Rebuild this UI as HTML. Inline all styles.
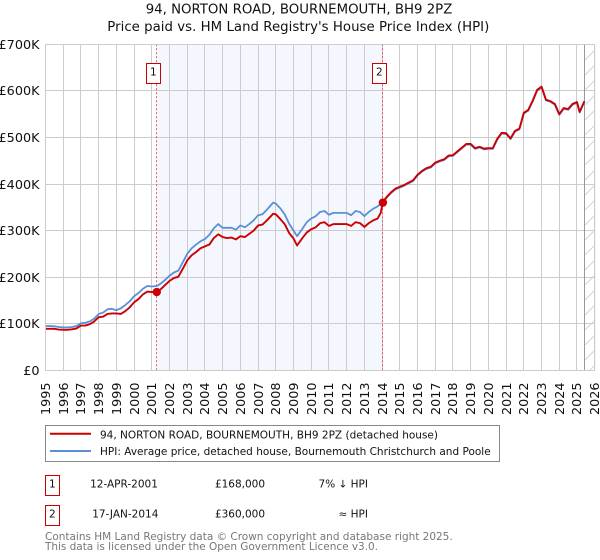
<!DOCTYPE html>
<html>
<head>
<meta charset="utf-8">
<title>94, NORTON ROAD, BOURNEMOUTH, BH9 2PZ</title>
<style>
html,body{margin:0;padding:0;background:#fff;}
svg{display:block;font-family:"DejaVu Sans","Liberation Sans",sans-serif;}
</style>
</head>
<body>
<svg id="chart" xmlns="http://www.w3.org/2000/svg" width="600" height="560" viewBox="0 0 600 560">
  <defs>
    <pattern id="hatch" patternUnits="userSpaceOnUse" width="15" height="15">
      <line x1="0" y1="15" x2="15" y2="0" stroke="#d4d4d4" stroke-width="1"/>
    </pattern>
  </defs>
  <rect x="0" y="0" width="600" height="560" fill="#ffffff"/>
  <text x="145.7" y="13.3" font-size="13.3" textLength="306.6" fill="#111">94, NORTON ROAD, BOURNEMOUTH, BH9 2PZ</text>
  <text x="107.3" y="31" font-size="13.3" textLength="382" fill="#111">Price paid vs. HM Land Registry's House Price Index (HPI)</text>
  <g id="plot-layer"></g>

  <g>
    <rect x="45.5" y="425.5" width="454" height="36" fill="#fff" stroke="#888" stroke-width="1"/>
    <line x1="50" y1="433.7" x2="91" y2="433.7" stroke="#cc0000" stroke-width="2"/>
    <text x="100" y="438.3" font-size="10.5" textLength="338" fill="#111">94, NORTON ROAD, BOURNEMOUTH, BH9 2PZ (detached house)</text>
    <line x1="50" y1="451" x2="91" y2="451" stroke="#5b8fd6" stroke-width="2"/>
    <text x="100" y="455" font-size="10.5" textLength="390.7" fill="#111">HPI: Average price, detached house, Bournemouth Christchurch and Poole</text>
  </g>

  <g font-size="10.5" fill="#111">
    <rect x="45.5" y="475.5" width="14" height="20" fill="#fff" stroke="#cc0000" stroke-width="1"/>
    <text x="52.3" y="487.3" text-anchor="middle">1</text>
    <text x="124" y="487.3" text-anchor="middle">12-APR-2001</text>
    <text x="240" y="487.3" text-anchor="middle">£168,000</text>
    <text x="368" y="487.3" text-anchor="end">7% ↓ HPI</text>
    <rect x="45.5" y="505.5" width="14" height="20" fill="#fff" stroke="#cc0000" stroke-width="1"/>
    <text x="52.3" y="517.3" text-anchor="middle">2</text>
    <text x="125.3" y="517.3" text-anchor="middle">17-JAN-2014</text>
    <text x="240" y="517.3" text-anchor="middle">£360,000</text>
    <text x="368" y="517.3" text-anchor="end">≈ HPI</text>
  </g>

  <text x="45" y="540" font-size="10.5" textLength="407.7" fill="#777">Contains HM Land Registry data © Crown copyright and database right 2025.</text>
  <text x="45" y="550" font-size="10.5" textLength="333" fill="#777">This data is licensed under the Open Government Licence v3.0.</text>
</svg>
<script>
var xTickYears = [1995,1996,1997,1998,1999,2000,2001,2002,2003,2004,2005,2006,2007,2008,2009,2010,2011,2012,2013,2014,2015,2016,2017,2018,2019,2020,2021,2022,2023,2024,2025,2026];
var yTickValues = [0,100,200,300,400,500,600,700];
var yTickLabels = ["£0","£100K","£200K","£300K","£400K","£500K","£600K","£700K"];
var dates = [1995,1995.25,1995.5,1995.75,1996,1996.25,1996.5,1996.75,1997,1997.25,1997.5,1997.75,1998,1998.25,1998.5,1998.75,1999,1999.25,1999.5,1999.75,2000,2000.25,2000.5,2000.75,2001,2001.28,2001.5,2001.75,2002,2002.25,2002.5,2002.75,2003,2003.25,2003.5,2003.75,2004,2004.25,2004.5,2004.75,2005,2005.25,2005.5,2005.75,2006,2006.25,2006.5,2006.75,2007,2007.25,2007.5,2007.85,2008,2008.25,2008.5,2008.75,2009,2009.2,2009.5,2009.75,2010,2010.25,2010.5,2010.75,2011,2011.25,2011.5,2011.75,2012,2012.25,2012.5,2012.75,2013,2013.25,2013.5,2013.75,2013.92,2014.05,2014.25,2014.5,2014.75,2015,2015.25,2015.5,2015.75,2016,2016.25,2016.5,2016.75,2017,2017.25,2017.5,2017.75,2018,2018.25,2018.5,2018.75,2019,2019.25,2019.5,2019.75,2020,2020.25,2020.5,2020.75,2021,2021.25,2021.5,2021.75,2022,2022.25,2022.5,2022.75,2023,2023.25,2023.5,2023.75,2024,2024.25,2024.5,2024.75,2025,2025.15,2025.42];
var hpiValues = [95,95,94.5,93,92,92,93,95,101,102,105,111,121,124,131,132,129,133,140,148,159,166,175,181,180,181,186,194,203,210,214,232,250,262,270,277,282,291,305,314,306,306,306,302,311,307,314,322,333,335,345,360,358,348,335,315,300,288,304,318,326,331,340,342,334,338,338,338,338,333,342,340,331,340,347,352,358,359,370.5,380.5,388.5,392.5,396.5,401.5,406.5,418.5,426.5,432.5,435.5,444.5,448.5,451.5,459.5,460.5,468.5,476.5,484.5,484.5,475.5,478.5,474.5,475.5,475.5,495.5,508.5,507.5,496.5,512.5,517.5,551.5,557.5,577.5,600.5,607.5,579.5,576.5,570.5,548.5,561.5,559.5,570.5,574.5,553.5,576.5];
var paidValues = [89,89,89,87.5,87,87,88,90,96,96,99,105,114,115,121,122,122,121,127,135,146,153,163,169,168,168,174,183,192,198,201,218,236,247,254,262,266,270,284,292,286,284,285,281,288,286,293,300,311,313,322,336,335,325,314,295,283,268,284,296,303,307,316,318,310,314,314,314,314,310,318,316,308,316,322,326,338,362,372,382,390,394,398,403,408,420,428,434,437,446,450,453,461,462,470,478,486,486,477,480,476,477,477,497,510,509,498,514,519,553,559,579,602,609,581,578,572,550,563,561,572,576,555,578];
var saleYears = [2001.28,2014.045];
var salePrices = [168,360];
var saleLabels = ["1","2"];
var shadeFrom = 2001.28;
var shadeTo = 2014.045;
var dataEnd = 2025.44;

var NS = "http://www.w3.org/2000/svg";
var layer = document.getElementById("plot-layer");
var plotLeft = 45.5, plotRight = 594.7, plotTop = 44.3, plotBottom = 370.3;
function xAxis(year){ return plotLeft + (year - 1995) * (plotRight - plotLeft) / 31; }
function yAxis(value){ return plotBottom - value * (plotBottom - plotTop) / 700; }
function snap(v){ return Math.round(v - 0.5) + 0.5; }
function make(tag, attrs){
  var el = document.createElementNS(NS, tag);
  for (var k in attrs) { el.setAttribute(k, attrs[k]); }
  layer.appendChild(el);
  return el;
}
function pathFrom(values){
  var d = "";
  for (var i = 0; i < dates.length; i++) {
    d += (i ? "L" : "M") + xAxis(dates[i]).toFixed(2) + " " + yAxis(values[i]).toFixed(2);
  }
  return d;
}

var shade = make("rect", {x: xAxis(shadeFrom), y: plotTop, width: xAxis(shadeTo) - xAxis(shadeFrom) - 0.8, height: plotBottom - plotTop, fill: "#f4f7fe"});



var hatch = make("rect", {x: xAxis(dataEnd), y: plotTop, width: plotRight - xAxis(dataEnd), height: plotBottom - plotTop, fill: "url(#hatch)"});



xTickYears.forEach(function(year){
  var gx = snap(xAxis(year));
  var line = make("line", {x1: gx, x2: gx, y1: plotTop, y2: plotBottom, stroke: "#cccccc", "stroke-width": 1});
  
  
  var label = make("text", {transform: "translate(" + (gx + 4.5) + ",415) rotate(-90)", "font-size": 12.8, fill: "#111"});
  label.textContent = String(year);
  
  
});

yTickValues.forEach(function(value, i){
  var gy = snap(yAxis(value));
  var line = make("line", {x1: plotLeft, x2: plotRight, y1: gy, y2: gy, stroke: "#cccccc", "stroke-width": 1});
  
  
  var label = make("text", {x: 39.5, y: gy + 4.5, "text-anchor": "end", "font-size": 12.8, fill: "#111"});
  label.textContent = yTickLabels[i];
  
  
});

var endLine = make("line", {x1: snap(xAxis(dataEnd)), x2: snap(xAxis(dataEnd)), y1: plotTop, y2: plotBottom, stroke: "#999999", "stroke-width": 1});



saleYears.forEach(function(year, i){
  var vx = snap(xAxis(year));
  var vline = make("line", {x1: vx, x2: vx, y1: plotTop, y2: plotBottom, stroke: "#ee5566", "stroke-width": 1, "stroke-dasharray": "2 2"});
  
  
});

var hpiLine = make("path", {d: pathFrom(hpiValues), fill: "none", stroke: "#5b8fd6", "stroke-width": 1.8, "stroke-linejoin": "round"});



var paidLine = make("path", {d: pathFrom(paidValues), fill: "none", stroke: "#cc0000", "stroke-width": 1.9, "stroke-linejoin": "round"});



saleYears.forEach(function(year, i){
  var dot = make("circle", {cx: xAxis(year), cy: yAxis(salePrices[i]), r: 4.2, fill: "#cc0000"});
  
  
  var bx = snap(xAxis(year)) - 10;
  var box = make("rect", {x: bx, y: 63.5, width: 14, height: 20, fill: "#fff", stroke: "#cc0000", "stroke-width": 1});
  
  
  var num = make("text", {x: bx + 6.8, y: 75.3, "text-anchor": "middle", "font-size": 10.5, fill: "#111"});
  num.textContent = saleLabels[i];
  
  
});

var frame = make("rect", {x: plotLeft, y: snap(plotTop), width: plotRight - plotLeft, height: snap(plotBottom) - snap(plotTop), fill: "none", stroke: "#cccccc", "stroke-width": 1});


</script>
</body>
</html>
